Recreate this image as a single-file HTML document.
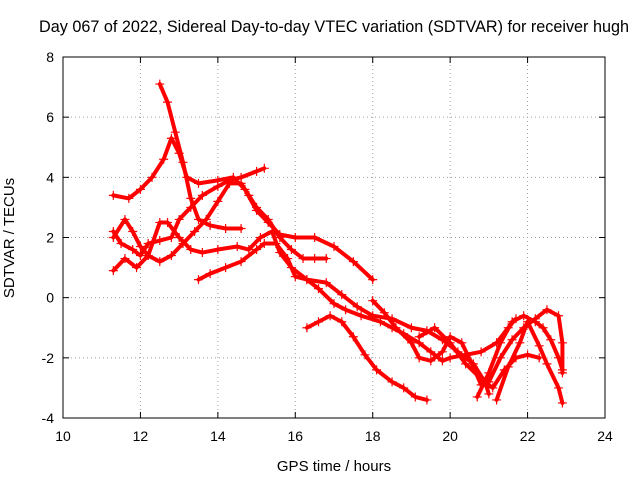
<!DOCTYPE html>
<html><head><meta charset="utf-8"><style>
body{margin:0;background:#fff;}
svg{display:block;font-family:"Liberation Sans",sans-serif;}
</style></head><body>
<svg id="chart" width="640" height="480">
<text x="334" y="32" font-size="16.2" text-anchor="middle" fill="#000">Day 067 of 2022, Sidereal Day-to-day VTEC variation (SDTVAR) for receiver hugh</text>
<text x="334" y="471" font-size="15" text-anchor="middle">GPS time / hours</text>
<text transform="translate(14,238) rotate(-90)" font-size="15" text-anchor="middle">SDTVAR / TECUs</text>
<g id="grid"></g><g id="series"></g>
<rect x="63" y="57" width="542" height="361" fill="none" stroke="#000" stroke-width="1"/>
</svg>
<script>
const xTicks=[10,12,14,16,18,20,22,24];
const yTicks=[-4,-2,0,2,4,6,8];
const traceA=[[11.3,3.4],[11.7,3.3],[12.0,3.6],[12.3,4.0],[12.6,4.6],[12.8,5.3],[13.0,4.8],[13.2,4.0],[13.5,3.8],[14.0,3.9],[14.4,4.0],[14.7,3.6],[15.0,2.9],[15.3,2.5],[15.6,2.1],[16.0,2.0],[16.5,2.0],[17.0,1.7],[17.5,1.2],[18.0,0.6]];
const traceB=[[12.5,7.1],[12.7,6.5],[12.9,5.5],[13.1,4.5],[13.3,3.3],[13.5,2.6],[13.8,2.4],[14.2,2.3],[14.6,2.3]];
const traceC=[[11.3,2.2],[11.5,1.8],[11.8,1.6],[12.0,1.4],[12.2,1.8],[12.5,1.9],[12.8,2.0],[13.0,2.6],[13.3,3.0],[13.6,3.4],[14.0,3.7],[14.3,3.9],[14.6,4.0],[15.0,4.2],[15.2,4.3]];
const traceD=[[11.3,2.0],[11.6,2.6],[11.8,2.2],[12.0,1.7],[12.2,1.4],[12.5,2.5],[12.7,2.5],[13.0,2.0],[13.3,1.6],[13.6,1.5],[14.0,1.6],[14.5,1.7],[14.8,1.6],[15.1,2.0],[15.4,2.2],[15.6,1.5],[15.9,1.0],[16.3,0.6],[16.8,0.5],[17.2,0.1],[17.6,-0.3],[18.0,-0.6],[18.5,-0.7],[19.0,-1.0],[19.4,-1.1],[19.8,-1.4],[20.2,-1.8],[20.6,-2.2],[20.9,-2.8],[21.0,-3.2]];
const traceE=[[11.3,0.9],[11.6,1.3],[11.9,1.0],[12.2,1.4],[12.5,1.2],[12.8,1.4],[13.1,1.8],[13.4,2.2],[13.7,2.6],[14.0,3.2],[14.3,3.8],[14.6,3.8],[14.8,3.4],[15.0,3.0],[15.3,2.6],[15.6,2.0],[15.9,1.6],[16.2,1.3],[16.5,1.3],[16.8,1.3]];
const traceF=[[13.5,0.6],[13.8,0.8],[14.2,1.0],[14.6,1.2],[15.0,1.6],[15.2,1.8],[15.5,1.8],[15.8,1.3],[16.0,0.7],[16.3,0.6],[16.6,0.3],[17.0,-0.2],[17.3,-0.4],[17.7,-0.6],[18.2,-0.8],[18.5,-1.0],[18.8,-1.2],[19.2,-1.5],[19.5,-1.8],[19.8,-2.1],[20.0,-2.0],[20.4,-1.9],[20.8,-1.8],[21.2,-1.5],[21.5,-1.0],[21.7,-0.7]];
const traceG=[[16.3,-1.0],[16.6,-0.8],[16.9,-0.6],[17.2,-0.8],[17.5,-1.3],[17.8,-1.9],[18.1,-2.4],[18.5,-2.8],[18.8,-3.0],[19.1,-3.3],[19.4,-3.4]];
const traceH=[[18.0,-0.1],[18.3,-0.5],[18.6,-1.0],[19.0,-1.5],[19.2,-2.0],[19.5,-2.1],[19.8,-1.8],[20.0,-1.3],[20.3,-1.5],[20.6,-2.3],[20.8,-2.9],[21.0,-2.8],[21.3,-2.0],[21.6,-1.4],[21.9,-1.0],[22.2,-0.7],[22.5,-0.4],[22.8,-0.6],[22.9,-1.5],[22.9,-2.5]];
const traceI=[[20.7,-3.3],[21.0,-2.5],[21.3,-1.5],[21.6,-0.8],[21.9,-0.6],[22.2,-0.8],[22.4,-1.0],[22.6,-1.4],[22.8,-2.0],[22.9,-2.4]];
const traceJ=[[21.2,-3.4],[21.5,-2.3],[21.8,-1.5],[22.0,-0.8],[22.3,-1.6],[22.5,-2.2],[22.8,-3.0],[22.9,-3.5]];
const traceK=[[19.2,-1.3],[19.6,-1.0],[20.0,-1.5],[20.4,-2.2],[20.8,-2.7],[21.1,-3.0],[21.4,-2.4],[21.7,-2.0],[22.0,-1.9],[22.3,-2.0]];
const traces=[traceA,traceB,traceC,traceD,traceE,traceF,traceG,traceH,traceI,traceJ,traceK];
const NS="http://www.w3.org/2000/svg";
const X0=63,X1=605,Y0=418,Y1=57;
function sx(v){return X0+(v-10)/14*(X1-X0);}
function sy(v){return Y0-(v+4)/12*(Y0-Y1);}
const grid=document.getElementById('grid');
function mk(t,a,p){const e=document.createElementNS(NS,t);for(const k in a)e.setAttribute(k,a[k]);p.appendChild(e);return e;}
xTicks.forEach(t=>{
 const x=sx(t);
 if(t>10&&t<24){const g=mk('line',{x1:x,x2:x,y1:Y0,y2:Y1,stroke:'#a0a0a0','stroke-dasharray':'1,3'},grid);
 
 }
 mk('line',{x1:x,x2:x,y1:Y0,y2:Y0-6,stroke:'#000'},grid);
 mk('line',{x1:x,x2:x,y1:Y1,y2:Y1+6,stroke:'#000'},grid);
 const l=mk('text',{x:x,y:Y0+23,'font-size':14,'text-anchor':'middle'},grid);l.textContent=t;
 
 
});
yTicks.forEach(t=>{
 const y=sy(t);
 if(t>-4&&t<8){const g=mk('line',{x1:X0,x2:X1,y1:y,y2:y,stroke:'#a0a0a0','stroke-dasharray':'1,3'},grid);
 
 }
 mk('line',{x1:X0,x2:X0+6,y1:y,y2:y,stroke:'#000'},grid);
 mk('line',{x1:X1,x2:X1-6,y1:y,y2:y,stroke:'#000'},grid);
 const l=mk('text',{x:X0-9,y:y+5,'font-size':14,'text-anchor':'end'},grid);l.textContent=t;
 
 
});
const ser=document.getElementById('series');
traces.forEach((tr,i)=>{
 const pl=mk('polyline',{points:tr.map(p=>sx(p[0])+','+sy(p[1])).join(' '),fill:'none',stroke:'#f00','stroke-width':4,'stroke-linejoin':'round','stroke-linecap':'round'},ser);
 
 
 let d='';
 tr.forEach(p=>{const x=sx(p[0]),y=sy(p[1]);d+=`M${x-4.5},${y}h9M${x},${y-4.5}v9`;});
 const m=mk('path',{d:d,stroke:'#f00','stroke-width':1.2},ser);
 
 
});
</script>
</body></html>
